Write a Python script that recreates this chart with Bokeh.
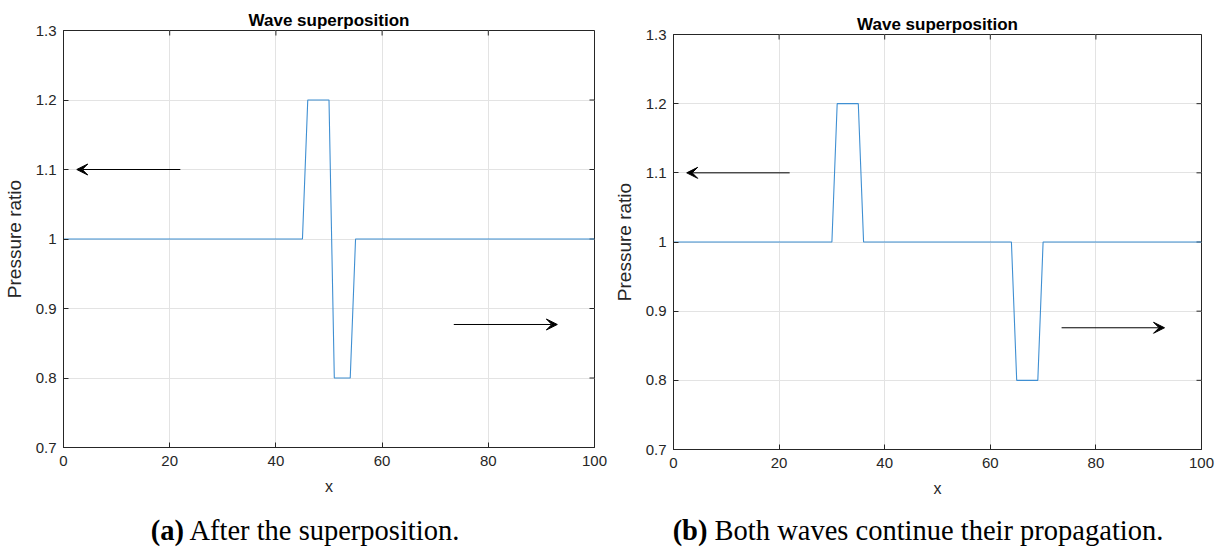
import math
from bokeh.plotting import figure
from bokeh.models import Range1d, FixedTicker, Arrow, VeeHead, Div
from bokeh.layouts import row, column
from bokeh.embed import file_html
from bokeh.resources import INLINE

# ---- data ----
xa = [0, 45, 46, 50, 51, 54, 55, 100]
ya = [1, 1, 1.2, 1.2, 0.8, 0.8, 1, 1]
xb = [0, 30, 31, 35, 36, 64, 65, 69, 70, 100]
yb = [1, 1, 1.2, 1.2, 1, 1, 0.8, 0.8, 1, 1]
x_ticks = [0, 20, 40, 60, 80, 100]
y_ticks = [0.7, 0.8, 0.9, 1, 1.1, 1.2, 1.3]
y_tick_labels = ["0.7", "0.8", "0.9", "1", "1.1", "1.2", "1.3"]
# arrows: (x_start, x_end, y)
arrows_a = [(22, 2.5, 1.1), (73.5, 93, 0.877)]
arrows_b = [(22, 2.5, 1.1), (73.5, 93, 0.876)]
captions = [("(a)", "After the superposition."),
            ("(b)", "Both waves continue their propagation.")]

AX = "#262626"
GRID = "#e3e3e3"
LINE = "#3f8fd2"
SANS = "Liberation Sans"


def make_panel(x, y, arrows, width, left, right, top, bottom):
    p = figure(width=width, height=500, output_backend="svg", toolbar_location=None,
               x_range=Range1d(x_ticks[0], x_ticks[-1]),
               y_range=Range1d(y_ticks[0], y_ticks[-1]),
               min_border_left=left, min_border_right=right,
               min_border_top=top, min_border_bottom=bottom,
               title="Wave superposition")
    p.title.align = "center"
    p.title.text_font = SANS
    p.title.text_font_size = "17px"
    p.title.text_font_style = "bold"
    p.title.text_color = "#000000"
    p.title.offset = 0
    p.title.standoff = 2
    p.outline_line_color = AX
    p.outline_line_alpha = 1
    p.background_fill_color = "white"
    p.border_fill_color = "white"

    p.xaxis.ticker = FixedTicker(ticks=x_ticks)
    p.yaxis.ticker = FixedTicker(ticks=y_ticks)
    p.yaxis.major_label_overrides = dict(zip(y_ticks, y_tick_labels))
    p.xaxis.axis_label = "x"
    p.yaxis.axis_label = "Pressure ratio"
    for ax in (p.xaxis[0], p.yaxis[0]):
        ax.axis_line_color = AX
        ax.major_tick_line_color = AX
        ax.major_tick_in = 5
        ax.major_tick_out = 0
        ax.minor_tick_line_color = None
        ax.major_label_text_font = SANS
        ax.major_label_text_font_size = "15px"
        ax.major_label_text_color = AX
        ax.axis_label_text_font = SANS
        ax.axis_label_text_font_style = "normal"
        ax.axis_label_text_color = AX
    p.xaxis.major_label_standoff = 8
    p.yaxis.major_label_standoff = 7
    p.xaxis.axis_label_text_font_size = "16px"
    p.yaxis.axis_label_text_font_size = "19px"
    p.xaxis.axis_label_standoff = 9
    p.yaxis.axis_label_standoff = 8

    p.xgrid.grid_line_color = GRID
    p.ygrid.grid_line_color = GRID
    p.xgrid.ticker = FixedTicker(ticks=x_ticks)
    p.ygrid.ticker = FixedTicker(ticks=y_ticks)

    # box ticks on the top and right edges (inward)
    p.ray(x=x_ticks, y=[y_ticks[-1]] * len(x_ticks), length=5, length_units="screen",
          angle=-math.pi / 2, line_color=AX, line_width=1)
    p.ray(x=[x_ticks[-1]] * len(y_ticks), y=y_ticks, length=5, length_units="screen",
          angle=math.pi, line_color=AX, line_width=1)

    p.line(x, y, line_color=LINE, line_width=1.1)

    for xs, xe, yy in arrows:
        p.add_layout(Arrow(x_start=xs, y_start=yy, x_end=xe, y_end=yy,
                           line_color="black", line_width=1,
                           end=VeeHead(size=11, fill_color="black", line_color="black",
                                       line_width=1)))
    return p


pa = make_panel(xa, ya, arrows_a, 610, 63, 16, 30, 53)
pb = make_panel(xb, yb, arrows_b, 616, 62, 25, 34, 51)


def cap(lbl, txt, w):
    return Div(text=f"<b>{lbl}</b> {txt}", width=w, height=49, margin=0,
               styles={"text-align": "center", "font-family": "'Liberation Serif', serif",
                       "font-size": "28.5px", "color": "black",
                       "line-height": "30px", "padding-top": "16px"})


layout = row(column(pa, cap(*captions[0], 610)), column(pb, cap(*captions[1], 616)))

with open("out.html", "w") as f:
    f.write(file_html(layout, INLINE))
